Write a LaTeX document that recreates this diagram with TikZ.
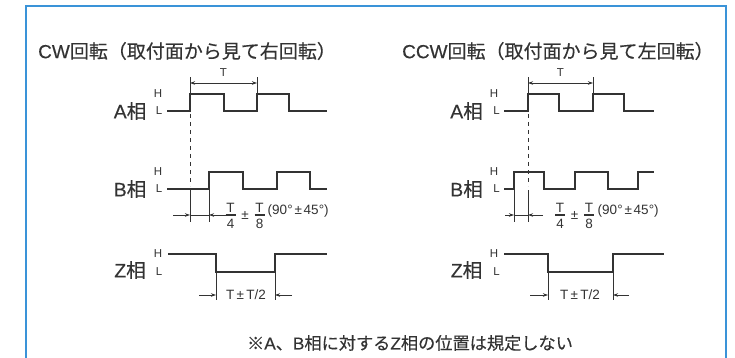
\documentclass[tikz,border=0pt]{standalone}
\usepackage{fontspec}
\setmainfont{Noto Sans CJK JP}[FakeBold=0.3]
\newfontfamily\lat{Liberation Sans}[FakeBold=0.3]
\newfontfamily\latn{Liberation Sans}
\usetikzlibrary{arrows.meta}
\definecolor{framec}{HTML}{3A93D8}
\definecolor{ink}{HTML}{333333}
\newcommand\fw[2][12pt]{\makebox[#1]{#2}}
% name, x, left x, right x, numerator, denominator
\newcommand\fracnode[6]{%
  \node[dimtxt] (#1n) at (#2,207.5) {#5};
  \node[dimtxt] (#1d) at (#2,223.5) {#6};
  \coordinate (#1a) at (#3,215);
  \coordinate (#1b) at (#4,215);
  \draw[fracrule] (#1a) -- (#1b);}
\tikzset{
  frameline/.style={draw=framec, line width=1.4pt},
  sig/.style={draw=ink, line width=1.8pt},
  ext/.style={draw=ink, line width=0.7pt},
  fracrule/.style={draw=ink, line width=1.1pt},
  dimarr/.style={draw=ink, line width=0.7pt, -{Stealth[length=5pt,width=3.5pt]}},
  dimboth/.style={draw=ink, line width=0.7pt, {Stealth[length=5pt,width=3.5pt]}-{Stealth[length=5pt,width=3.5pt]}},
  dashln/.style={draw=ink, line width=0.8pt, dash pattern=on 4pt off 4pt},
  title/.style={font=\fontsize{19}{22}\selectfont, text=ink, inner sep=0pt},
  phase/.style={font=\fontsize{19.5}{22}\selectfont, text=ink, inner sep=0pt},
  lvl/.style={font=\latn\fontsize{11.5}{12}\selectfont, text=ink, inner sep=0pt},
  dimtxt/.style={font=\latn\fontsize{13.5}{14}\selectfont, text=ink, inner sep=0pt},
  note/.style={font=\fontsize{17.2}{18}\selectfont, text=ink, inner sep=0pt},
}
\begin{document}
\begin{tikzpicture}[x=1pt,y=-1pt]
\useasboundingbox (0,0) rectangle (735,358);
\draw[frameline] (26,359) -- (26,6) -- (726,6) -- (726,359);

%================ LEFT (CW) =================
\node[title,anchor=west] (tL) at (38,51) {{\lat CW}回転（取付面から見て右回転）};

\node[phase] (aL) at (130,111) {{\lat A}相};
\node[phase] (bL) at (130,189) {{\lat B}相};
\node[phase] (zL) at (130,270) {{\lat Z}相};

\node[lvl] (aLH) at (158,94) {H};
\node[lvl] (aLL) at (159,111) {L};
\node[lvl] (bLH) at (158,172) {H};
\node[lvl] (bLL) at (159,189) {L};
\node[lvl] (zLH) at (158,254) {H};
\node[lvl] (zLL) at (159,272) {L};

% signals
\draw[sig] (167,111) -| (190,94) -| (224,111) -| (257,94) -| (289,111) -- (327,111);
\draw[sig] (167,189) -| (209,172) -| (243,189) -| (277,172) -| (310,189) -- (327,189);
\draw[sig] (168,254) -| (216,272) -| (275,254) -- (327,254);

% T dimension
\coordinate (tLa) at (190,83);
\coordinate (tLb) at (257,83);
\draw[ext] (190,77.5) -- (190,93);
\draw[ext] (257,77.5) -- (257,93);
\draw[dimboth] (tLa) -- (tLb);
\node[lvl] (tLt) at (223.5,72.5) {T};

% phase difference
\draw[dashln] (190,114) -- (190,186);
\draw[ext] (190,190) -- (190,222);
\draw[ext] (209,190) -- (209,222);
\coordinate (pLa0) at (173,215);
\coordinate (pLa) at (190,215);
\coordinate (pLb) at (209,215);
\coordinate (pLb0) at (227,215);
\draw[ext] (pLa) -- (pLb);
\draw[dimarr] (pLa0) -- (pLa);
\draw[dimarr] (pLb0) -- (pLb);
\fracnode{fL1}{230.5}{225.5}{235.5}{T}{4}
\node[dimtxt] (pmL) at (245,215) {±};
\fracnode{fL2}{259.5}{254.5}{264.5}{T}{8}
\node[dimtxt,anchor=west] (dgL) at (267.5,211.5) {(90\fw[5.5pt]{°}\fw[11pt]{±}45\fw[5.5pt]{°})};

% Z dimension
\draw[ext] (216,273) -- (216,300);
\draw[ext] (275,273) -- (275,300);
\coordinate (zLa0) at (199,295);
\coordinate (zLa) at (216,295);
\coordinate (zLb0) at (292,295);
\coordinate (zLb) at (275,295);
\draw[dimarr] (zLa0) -- (zLa);
\draw[dimarr] (zLb0) -- (zLb);
\node[dimtxt] (zLt) at (246,295) {T\fw[12pt]{±}T/2};

%================ RIGHT (CCW) =================
\node[title,anchor=west] (tR) at (402,51) {{\lat CCW}回転（取付面から見て左回転）};

\node[phase] (aR) at (466.5,111) {{\lat A}相};
\node[phase] (bR) at (466.5,189) {{\lat B}相};
\node[phase] (zR) at (466.5,270) {{\lat Z}相};

\node[lvl] (aRH) at (494,94) {H};
\node[lvl] (aRL) at (496.5,111) {L};
\node[lvl] (bRH) at (494,172) {H};
\node[lvl] (bRL) at (496.5,189) {L};
\node[lvl] (zRH) at (494,254) {H};
\node[lvl] (zRL) at (496.5,272) {L};

\draw[sig] (504,111) -| (528,94) -| (559,111) -| (593,94) -| (624,111) -- (654,111);
\draw[sig] (504,189) -| (514,172) -| (544,189) -| (575,172) -| (608,189) -| (638,172) -- (654,172);
\draw[sig] (504,254) -| (548,272) -| (613,254) -- (664,254);

\coordinate (tRa) at (528,83);
\coordinate (tRb) at (593,83);
\draw[ext] (528,77.5) -- (528,93);
\draw[ext] (593,77.5) -- (593,93);
\draw[dimboth] (tRa) -- (tRb);
\node[lvl] (tRt) at (560.5,72.5) {T};

\draw[dashln] (528,114) -- (528,186);
\draw[ext] (514,190) -- (514,222);
\draw[ext] (528,190) -- (528,222);
\coordinate (pRa0) at (505,215);
\coordinate (pRa) at (514,215);
\coordinate (pRb) at (528,215);
\coordinate (pRb0) at (543,215);
\draw[ext] (pRa) -- (pRb);
\draw[dimarr] (pRa0) -- (pRa);
\draw[dimarr] (pRb0) -- (pRb);
\fracnode{fR1}{560}{555}{565}{T}{4}
\node[dimtxt] (pmR) at (574.5,215) {±};
\fracnode{fR2}{589}{584}{594}{T}{8}
\node[dimtxt,anchor=west] (dgR) at (597.5,211.5) {(90\fw[5.5pt]{°}\fw[11pt]{±}45\fw[5.5pt]{°})};

\draw[ext] (548,273) -- (548,300);
\draw[ext] (613,273) -- (613,300);
\coordinate (zRa0) at (530,295);
\coordinate (zRa) at (548,295);
\coordinate (zRb0) at (629,295);
\coordinate (zRb) at (613,295);
\draw[dimarr] (zRa0) -- (zRa);
\draw[dimarr] (zRb0) -- (zRb);
\node[dimtxt] (zRt) at (580,295) {T\fw[12pt]{±}T/2};

%================ NOTE =================
\node[note] (nt) at (410,343) {※{\lat A}、{\lat B}相に対する{\lat Z}相の位置は規定しない};
\end{tikzpicture}
\end{document}
